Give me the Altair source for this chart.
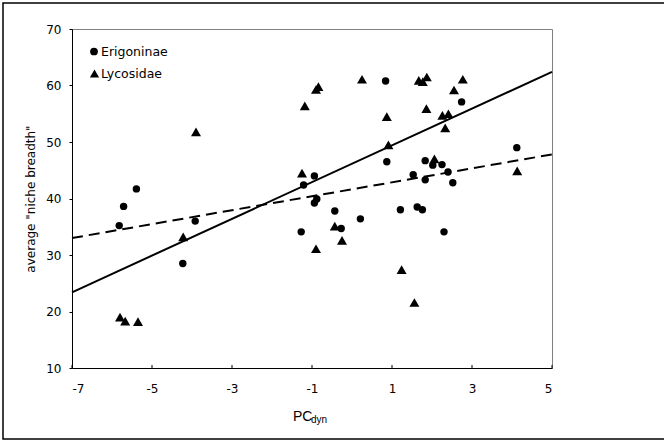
import altair as alt
import pandas as pd

# ---- data ----
groups = ["Erigoninae", "Lycosidae"]

eri_x = [-5.82, -5.71, -5.39, -4.23, -3.92, -1.27, -1.21, -0.94, -0.94, -0.88,
         -0.43, -0.27, 0.21, 0.84, 0.87, 1.21, 1.53, 1.63, 1.76, 1.83,
         1.83, 2.02, 2.25, 2.30, 2.40, 2.52, 2.74, 4.12]
eri_y = [35.2, 38.6, 41.7, 28.5, 36.0, 34.1, 42.4, 44.0, 39.2, 39.9,
         37.8, 34.7, 36.4, 60.8, 46.5, 38.0, 44.2, 38.5, 38.0, 46.7,
         43.3, 45.9, 46.0, 34.1, 44.7, 42.8, 57.1, 49.0]

lyc_x = [-5.80, -5.67, -5.35, -4.22, -3.90, -1.25, -1.18, -0.90, -0.84, -0.90,
         -0.43, -0.25, 0.25, 0.87, 0.91, 1.24, 1.56, 1.67, 1.77, 1.87,
         1.86, 2.06, 2.26, 2.33, 2.41, 2.55, 2.77, 4.13]
lyc_y = [19.0, 18.3, 18.2, 33.2, 51.8, 44.5, 56.4, 59.3, 59.8, 31.1,
         35.1, 32.6, 61.1, 54.5, 49.5, 27.4, 21.6, 60.9, 60.7, 61.5,
         55.9, 47.0, 54.7, 52.5, 55.0, 59.2, 61.1, 44.9]

# fitted lines (end points)
line_x = [-7, 5]
solid_y = [23.4, 62.4]
dashed_y = [33.0, 47.8]

x_ticks = [-7, -5, -3, -1, 1, 3, 5]
y_ticks = [10, 20, 30, 40, 50, 60, 70]

y_title = 'average "niche breadth"'
x_title_main = "PC"
x_title_sub = "dyn"

# ---- tables ----
pts = pd.DataFrame({
    "x": eri_x + lyc_x,
    "y": eri_y + lyc_y,
    "group": [groups[0]] * len(eri_x) + [groups[1]] * len(lyc_x),
})
solid_df = pd.DataFrame({"x": line_x, "y": solid_y})
dashed_df = pd.DataFrame({"x": line_x, "y": dashed_y})
ticks_df = pd.DataFrame({"t": x_ticks})

W, H = 480, 339
FONT = "DejaVu Sans"

xscale = alt.Scale(domain=[-7, 5], nice=False, zero=False)
yscale = alt.Scale(domain=[10, 70], nice=False, zero=False)

xaxis = alt.Axis(values=x_ticks, title=None, grid=False, ticks=False,
                 domainColor="black", domainWidth=1, labelPadding=15,
                 labelFont=FONT, labelFontSize=12, labelColor="black",
                 labelExpr="'' + datum.value")
yaxis = alt.Axis(values=y_ticks, title=y_title, grid=False, ticks=True,
                 tickSize=3, tickColor="black", domainColor="black",
                 domainWidth=1, labelPadding=8, labelFont=FONT,
                 labelFontSize=12, labelColor="black",
                 titleFont=FONT, titleFontSize=12, titleFontWeight="normal",
                 titleColor="black", titlePadding=8,
                 labelExpr="'' + datum.value")

points = alt.Chart(pts).mark_point(filled=True, opacity=1, color="black").encode(
    x=alt.X("x:Q", scale=xscale, axis=xaxis),
    y=alt.Y("y:Q", scale=yscale, axis=yaxis),
    shape=alt.Shape("group:N",
                    scale=alt.Scale(domain=groups, range=["circle", "triangle-up"]),
                    legend=None),
    size=alt.Size("group:O", scale=alt.Scale(domain=groups, range=[55, 100]),
                  legend=None),
)

solid = alt.Chart(solid_df).mark_line(color="black", strokeWidth=2).encode(
    x=alt.X("x:Q", scale=xscale), y=alt.Y("y:Q", scale=yscale))
dashed = alt.Chart(dashed_df).mark_line(color="black", strokeWidth=2,
                                        strokeDash=[11, 6]).encode(
    x=alt.X("x:Q", scale=xscale), y=alt.Y("y:Q", scale=yscale))

inner_ticks = alt.Chart(ticks_df).mark_rule(color="black", strokeWidth=1).encode(
    x=alt.X("t:Q", scale=xscale), y=alt.value(H), y2=alt.value(H - 3))

one = alt.Data(values=[{}])
xt_main = alt.Chart(one).mark_text(font="Liberation Sans", fontSize=14,
                                   align="left", baseline="alphabetic",
                                   color="black").encode(
    x=alt.value(221), y=alt.value(392), text=alt.value(x_title_main))
xt_sub = alt.Chart(one).mark_text(font="Liberation Sans", fontSize=10,
                                  align="left", baseline="alphabetic",
                                  color="black").encode(
    x=alt.value(239), y=alt.value(393.5), text=alt.value(x_title_sub))

# manual legend (inside the plot, top-left)
leg_circle = alt.Chart(one).mark_point(shape="circle", filled=True, opacity=1,
                                       color="black", size=60).encode(
    x=alt.value(22), y=alt.value(22.5))
leg_tri = alt.Chart(one).mark_point(shape="triangle-up", filled=True, opacity=1,
                                    color="black", size=85).encode(
    x=alt.value(22.5), y=alt.value(44.5))
leg_t1 = alt.Chart(one).mark_text(font=FONT, fontSize=12.5, align="left",
                                  baseline="middle", color="black").encode(
    x=alt.value(29), y=alt.value(22.5), text=alt.value(groups[0]))
leg_t2 = alt.Chart(one).mark_text(font=FONT, fontSize=12.5, align="left",
                                  baseline="middle", color="black").encode(
    x=alt.value(29), y=alt.value(45), text=alt.value(groups[1]))

border = alt.Chart(one).mark_rect(fillOpacity=0, stroke="black",
                                  strokeWidth=1.5).encode(
    x=alt.value(-69), x2=alt.value(594), y=alt.value(-26), y2=alt.value(410))

chart = alt.layer(border, solid, dashed, points, inner_ticks, xt_main, xt_sub,
                  leg_circle, leg_tri, leg_t1, leg_t2).properties(
    width=W, height=H,
    padding={"left": 72, "top": 29, "right": 112, "bottom": 73},
    autosize=alt.AutoSizeParams(type="none"),
    background="white",
).configure_view(stroke="#808080", strokeWidth=1)

chart.save("out.html", embed_options={"renderer": "svg", "actions": False})
